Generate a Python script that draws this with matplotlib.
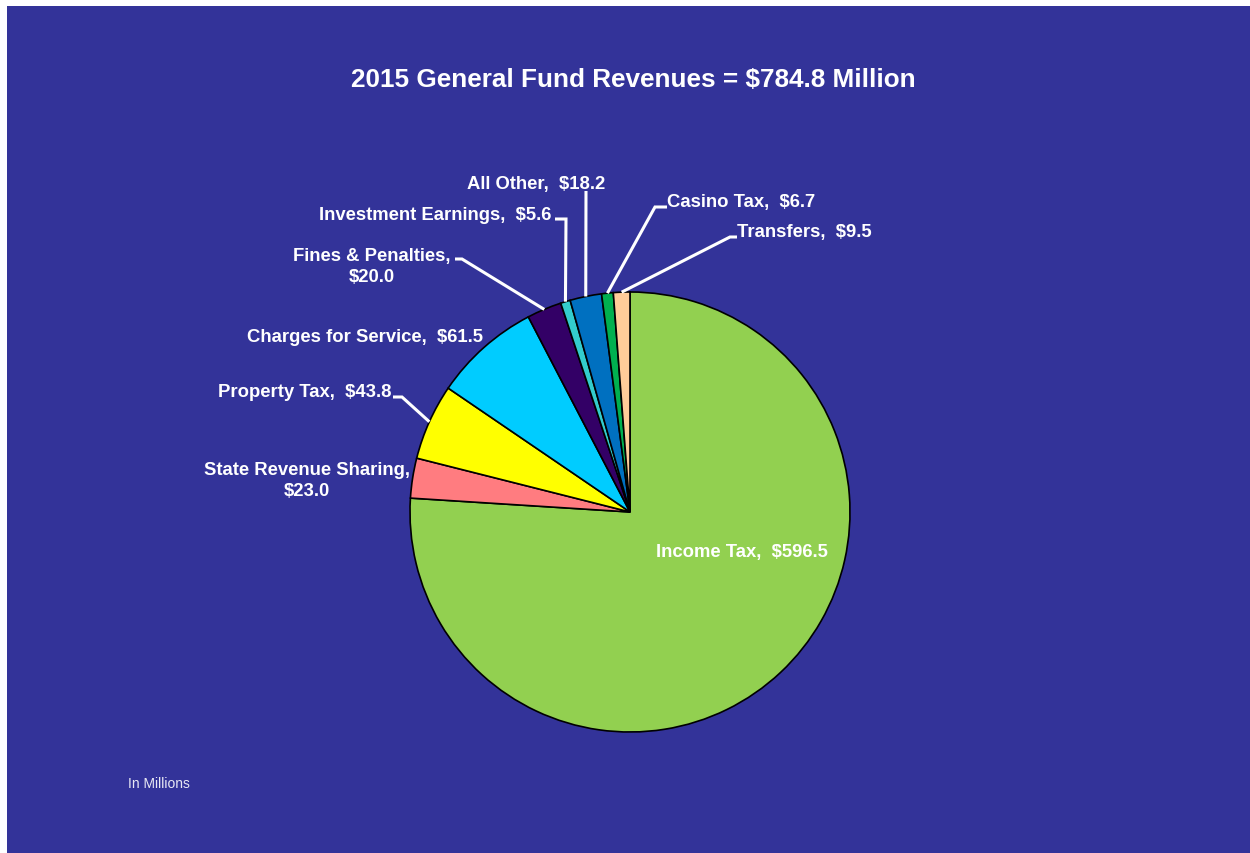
import numpy as np
import matplotlib
matplotlib.use("Agg")
import matplotlib.pyplot as plt
from matplotlib.patches import Rectangle

plt.rcParams['font.family'] = ['Liberation Sans', 'DejaVu Sans']

# Revenue sources (millions of dollars), clockwise from 12 o'clock
categories = ["Income Tax", "State Revenue Sharing", "Property Tax",
              "Charges for Service", "Fines & Penalties", "Investment Earnings",
              "All Other", "Casino Tax", "Transfers"]
values = [596.5, 23.0, 43.8, 61.5, 20.0, 5.6, 18.2, 6.7, 9.5]
colors = ["#92D050", "#FF7C80", "#FFFF00", "#00CCFF", "#330066",
          "#33CCCC", "#0070C0", "#00B050", "#FFCC99"]
total = 784.8
title = f"2015 General Fund Revenues = ${total:.1f} Million"

W, H = 1250, 854
BG = "#333399"

fig = plt.figure(figsize=(W / 100, H / 100), dpi=100, facecolor=BG)
# thin white margin along the top and left edges
fig.patches.append(Rectangle((0, 0), 7 / W, 1, transform=fig.transFigure,
                             facecolor="white", edgecolor="none", zorder=0))
fig.patches.append(Rectangle((0, 1 - 7 / H), 1, 7 / H, transform=fig.transFigure,
                             facecolor="white", edgecolor="none", zorder=0))

ax = fig.add_axes([0, 0, 1, 1])
ax.set_axis_off()


def py(y):
    """Convert a top-down pixel row to the y-up axis coordinate."""
    return H - y


cx, cy, R = 630, py(513), 220
wedges, _ = ax.pie(values, colors=colors, startangle=90, counterclock=False,
                   center=(cx, cy), radius=R, frame=True,
                   wedgeprops=dict(edgecolor="black", linewidth=1.2))
for w in wedges:
    w.set_zorder(2)

ax.set_xlim(0, W)
ax.set_ylim(0, H)
ax.set_aspect("auto")
ax.set_axis_off()


def label_text(i, two_lines=False):
    sep = ",\n" if two_lines else ",  "
    return f"{categories[i]}{sep}${values[i]:.1f}"


def edge_point(i):
    w = wedges[i]
    mid = np.deg2rad((w.theta1 + w.theta2) / 2)
    return cx + R * np.cos(mid), cy + R * np.sin(mid)


txt = dict(color="white", fontsize=13.3, fontweight="bold", zorder=5)

# label: (x, y, ha, two_lines, leader path points before the slice edge)
layout = {
    0: (656, 553, "left", False, None),
    1: (307, 481, "center", True, None),
    2: (391, 393, "right", False, [(393, 398), (402, 398)]),
    3: (483, 337, "right", False, None),
    4: (372, 267, "center", True, [(455, 260), (462, 260)]),
    5: (551, 215, "right", False, [(555, 220), (566, 220)]),
    6: (536, 185, "center", False, [(586, 192)]),
    7: (667, 203, "left", False, [(667, 208), (655, 208)]),
    8: (737, 233, "left", False, [(737, 238), (730, 238)]),
}

for i, (x, y, ha, two, path) in layout.items():
    ax.text(x, py(y), label_text(i, two), ha=ha, va="center",
            multialignment="center", linespacing=1.3, **txt)
    if path:
        ex, ey = edge_point(i)
        xs = [p[0] for p in path] + [ex]
        ys = [py(p[1]) for p in path] + [ey]
        ax.plot(xs, ys, color="white", linewidth=2.2, solid_capstyle="butt",
                solid_joinstyle="miter", zorder=4)

ax.text(633, py(80), title, ha="center", va="center", color="white",
        fontsize=18.8, fontweight="bold", zorder=5)
ax.text(128, py(784), "In Millions", ha="left", va="center",
        color="#E8E8F4", fontsize=10, zorder=5)

fig.savefig("out.png", dpi=100, facecolor=fig.get_facecolor())
